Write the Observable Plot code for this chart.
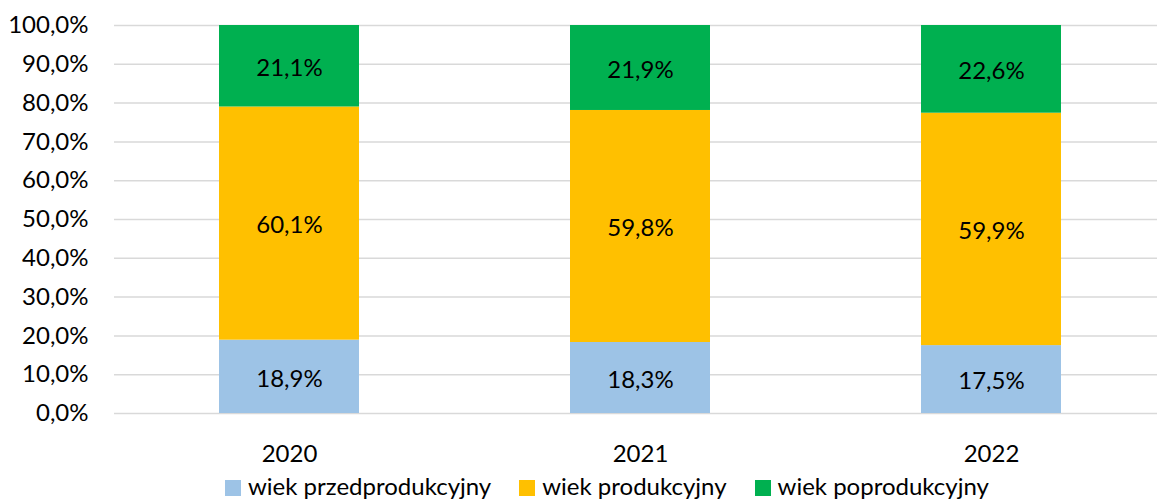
<!DOCTYPE html>
<html>
<head>
<meta charset="utf-8">
<script src="https://cdn.jsdelivr.net/npm/d3@7"></script>
<script src="https://cdn.jsdelivr.net/npm/@observablehq/plot@0.6"></script>
<style>
  html, body { margin: 0; padding: 0; background: #fff; }
  #chart { width: 1157px; position: relative; height: 502px; }
  .legend { position: absolute; left: 225px; top: 472px; height: 28px; line-height: 28px; display: flex; align-items: center; gap: 28px;
    font-family: Lato, sans-serif; font-size: 24px; color: #000; white-space: nowrap; }
  .legend span.item { display: flex; align-items: center; gap: 7px; }
  .legend span.sw { width: 16px; height: 16px; display: inline-block; margin-top: 3px; }
</style>
</head>
<body>
<div id="chart"></div>
<script>
const years = ["2020", "2021", "2022"];
const series = ["wiek przedprodukcyjny", "wiek produkcyjny", "wiek poprodukcyjny"];
const przedprodukcyjny = [18.9, 18.3, 17.5];
const produkcyjny = [60.1, 59.8, 59.9];
const poprodukcyjny = [21.1, 21.9, 22.6];
const colors = ["#9DC3E6", "#FFC000", "#00B050"];
const yTicks = [0, 10, 20, 30, 40, 50, 60, 70, 80, 90, 100];

const values = [przedprodukcyjny, produkcyjny, poprodukcyjny];
const data = [];
series.forEach((s, si) => years.forEach((y, yi) => data.push({year: y, series: s, value: values[si][yi]})));

const fmt = d => d.toFixed(1).replace(".", ",") + "%";

const W = 1157, H = 470, ML = 114, MT = 25, MB = 57;
const chart = Plot.plot({
  width: W,
  height: H,
  marginLeft: ML,
  marginRight: 0,
  marginTop: MT,
  marginBottom: MB,
  style: {fontFamily: "Lato, sans-serif", fontSize: "24px", color: "#000", background: "#fff"},
  x: {domain: years, range: [ML, ML + 1053], paddingInner: 0.6, paddingOuter: 0.3, label: null, tickSize: 0, tickPadding: 31},
  y: {domain: [0, 100], ticks: yTicks, tickFormat: fmt, label: null, tickSize: 0, tickPadding: 26, clamp: true},
  color: {domain: series, range: colors},
  marks: [
    Plot.ruleY(yTicks, {y: d => d, stroke: "#d9d9d9", strokeWidth: 1.5}),
    Plot.barY(data, {x: "year", y: "value", fill: "series", order: series, inset: 0}),
    Plot.text(data, Plot.stackY({x: "year", y: "value", z: "series", order: series, text: d => fmt(d.value), fill: "#000", fontSize: 24, dy: 2}))
  ]
});
document.getElementById("chart").appendChild(chart);

const legend = document.createElement("div");
legend.className = "legend";
series.forEach((s, i) => {
  const item = document.createElement("span");
  item.className = "item";
  const sw = document.createElement("span");
  sw.className = "sw";
  sw.style.background = colors[i];
  const t = document.createElement("span");
  t.textContent = s;
  item.appendChild(sw);
  item.appendChild(t);
  legend.appendChild(item);
});
document.getElementById("chart").appendChild(legend);
</script>
</body>
</html>
